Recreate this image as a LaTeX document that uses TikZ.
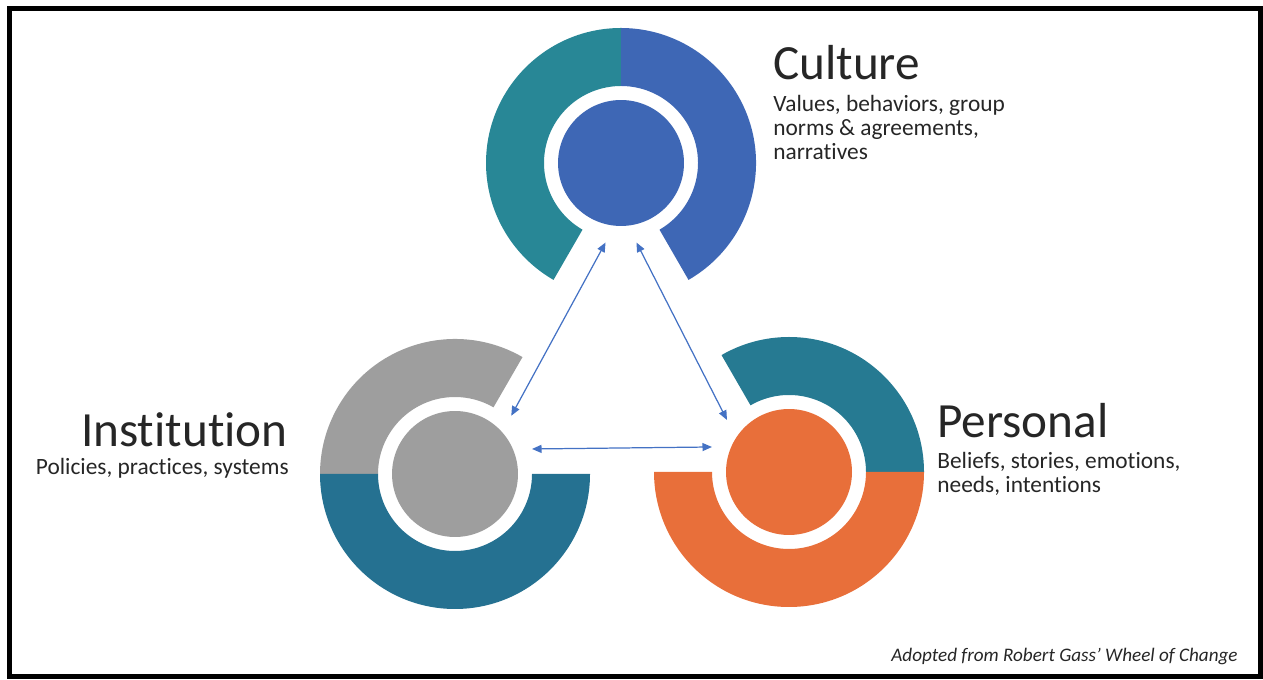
\documentclass[tikz,border=0pt]{standalone}
\usepackage{fontspec}
\setmainfont{Carlito}[Ligatures={TeX,NoCommon}]
\usetikzlibrary{arrows.meta,positioning}

\definecolor{cultureteal}{RGB}{40,135,150}
\definecolor{cultureblue}{RGB}{62,103,181}
\definecolor{instgray}{RGB}{158,158,158}
\definecolor{instteal}{RGB}{37,113,145}
\definecolor{personalteal}{RGB}{38,122,146}
\definecolor{personalorange}{RGB}{232,111,58}
\definecolor{linkblue}{RGB}{68,114,196}
\definecolor{ink}{RGB}{38,38,38}

\begin{document}
\begin{tikzpicture}[x=0.02cm,y=0.02cm,
        disk/.style={circle,minimum size=2.52cm,inner sep=0pt,outer sep=0.36cm},
        link/.style={{Triangle[length=1.9mm,width=1.6mm]}-{Triangle[length=1.9mm,width=1.6mm]},
            linkblue,line width=0.7pt},
        title/.style={font=\fontsize{28}{30}\selectfont,text=ink,inner sep=0pt},
        desc/.style={font=\fontsize{13.3}{13.8}\selectfont,text=ink,inner sep=0pt},
        credit/.style={font=\itshape\fontsize{10.9}{12}\selectfont,text=ink,inner sep=0pt}]

    \useasboundingbox (0,0) rectangle (1263,679);
    \draw[line width=0.1cm] (9.5,3) rectangle (1260.5,670.5);

    % hubs
    \node[disk,fill=cultureblue] (culture) at (621,516) {};
    \node[disk,fill=instgray] (institution) at (455,205) {};
    \node[disk,fill=personalorange] (personal) at (789,207) {};

    % ring segments: hub / start angle / end angle / colour
    \foreach \w/\from/\to/\col in {culture/90/240/cultureteal,
            culture/-60/90/cultureblue,
            institution/60/180/instgray,
            institution/180/360/instteal,
            personal/0/120/personalteal,
            personal/180/360/personalorange}
    \fill[\col] (\w) ++(\from:135) arc[start angle=\from,end angle=\to,radius=135]
        -- ++(\to:-58) arc[start angle=\to,end angle=\from,radius=77] -- cycle;

    \draw[link] (culture.259) -- (institution.46);
    \draw[link] (culture.281) -- (personal.140);
    \draw[link] (institution.18) -- (personal.162);

    % labels (multi-line text sits on its last baseline)
    \node[title,anchor=base west] (cultureTitle) at (773,599) {Culture};
    \node[desc,anchor=base west,align=left] (cultureText) at (773,519)
        {Values, behaviors, group\\norms \& agreements,\\narratives};

    \node[title,anchor=base east] (institutionTitle) at (288,232) {Institution};
    \node[desc,anchor=base east] (institutionText) at (289,204) {Policies, practices, systems};

    \node[title,anchor=base west] (personalTitle) at (937,241) {Personal};
    \node[desc,anchor=base west,align=left] (personalText) at (937,186)
        {Beliefs, stories, emotions,\\needs, intentions};

    \node[credit,anchor=base east] (credit) at (1238,18) {Adopted from Robert Gass' Wheel of Change};
\end{tikzpicture}
\end{document}
